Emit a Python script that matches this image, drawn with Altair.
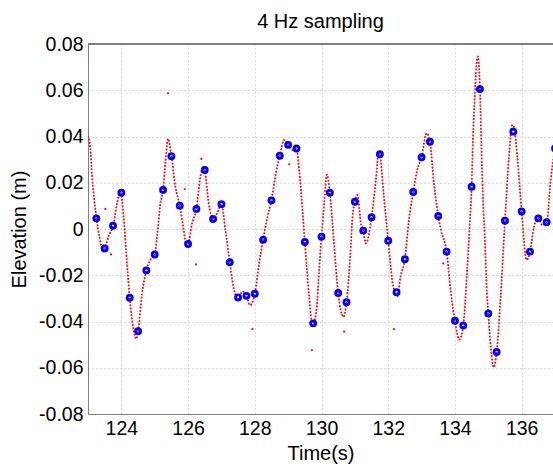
import altair as alt
import pandas as pd

# Dense (red) record: time (s) and elevation (m)
red_t = [123.00, 123.07, 123.12, 123.17, 123.25, 123.35, 123.45, 123.50, 123.62, 123.75,
         123.87, 123.97, 124.07, 124.17, 124.25, 124.37, 124.45, 124.50, 124.62, 124.75,
         124.87, 125.00, 125.07, 125.17, 125.25, 125.32, 125.40, 125.50, 125.62, 125.75,
         125.87, 125.95, 126.00, 126.12, 126.25, 126.37, 126.45, 126.50, 126.62, 126.75,
         126.87, 127.00, 127.12, 127.25, 127.38, 127.50, 127.63, 127.75, 127.86, 128.00,
         128.13, 128.25, 128.38, 128.50, 128.63, 128.75, 128.88, 129.00, 129.13, 129.25,
         129.33, 129.43, 129.50, 129.63, 129.70, 129.75, 129.86, 129.93, 130.00, 130.08,
         130.16, 130.25, 130.36, 130.50, 130.66, 130.75, 130.86, 130.93, 131.00, 131.08,
         131.18, 131.25, 131.33, 131.50, 131.63, 131.72, 131.75, 131.87, 132.00, 132.12,
         132.27, 132.37, 132.50, 132.62, 132.75, 132.87, 133.00, 133.15, 133.25, 133.37,
         133.50, 133.58, 133.75, 133.87, 134.00, 134.13, 134.25, 134.36, 134.44, 134.50,
         134.54, 134.59, 134.64, 134.69, 134.75, 134.81, 134.86, 134.89, 134.96, 135.00,
         135.08, 135.16, 135.25, 135.37, 135.50, 135.62, 135.72, 135.77, 135.87, 136.00,
         136.15, 136.25, 136.37, 136.50, 136.62, 136.75, 136.87, 137.00]
red_v = [0.0400, 0.0350, 0.0230, 0.0150, 0.0050, -0.0040, -0.0095, -0.0084, -0.0030, 0.0014,
         0.0110, 0.0165, 0.0050, -0.0150, -0.0297, -0.0437, -0.0475, -0.0442, -0.0280, -0.0179,
         -0.0134, -0.0110, -0.0033, 0.0110, 0.0169, 0.0284, 0.0390, 0.0315, 0.0183, 0.0101,
         -0.0004, -0.0070, -0.0065, 0.0025, 0.0087, 0.0227, 0.0270, 0.0255, 0.0110, 0.0043,
         0.0068, 0.0107, -0.0004, -0.0144, -0.0264, -0.0305, -0.0270, -0.0289, -0.0330, -0.0280,
         -0.0149, -0.0046, 0.0053, 0.0124, 0.0240, 0.0317, 0.0385, 0.0364, 0.0342, 0.0348,
         0.0255, 0.0082, -0.0056, -0.0293, -0.0394, -0.0408, -0.0336, -0.0177, -0.0033, 0.0111,
         0.0235, 0.0157, -0.0033, -0.0277, -0.0380, -0.0317, -0.0120, 0.0053, 0.0118, 0.0147,
         0.0025, -0.0007, -0.0062, 0.0051, 0.0212, 0.0335, 0.0323, 0.0140, -0.0051, -0.0221,
         -0.0293, -0.0206, -0.0131, 0.0039, 0.0160, 0.0255, 0.0310, 0.0414, 0.0377, 0.0198,
         0.0056, -0.0004, -0.0098, -0.0264, -0.0397, -0.0478, -0.0417, -0.0192, 0.0010, 0.0183,
         0.0385, 0.0558, 0.0700, 0.0746, 0.0605, 0.0270, 0.0068, -0.0019, -0.0280, -0.0365,
         -0.0520, -0.0598, -0.0532, -0.0293, 0.0036, 0.0313, 0.0450, 0.0440, 0.0313, 0.0076,
         -0.0134, -0.0098, 0.0010, 0.0046, 0.0017, 0.0029, 0.0212, 0.0349]

# Isolated red points (spikes)
out_t = [125.40, 123.52, 123.69, 125.90, 126.24, 126.40, 127.93, 129.03, 129.71, 130.68, 132.17, 133.65]
out_v = [0.0587, 0.0087, -0.0110, 0.0173, -0.0153, 0.0303, -0.0433, 0.0280, -0.0524, -0.0444, -0.0433, -0.0149]

# 4 Hz samples (blue)
blue_t = [123.25, 123.50, 123.75, 124.00, 124.25, 124.50, 124.75, 125.00, 125.25, 125.50,
          125.75, 126.00, 126.25, 126.50, 126.75, 127.00, 127.25, 127.50, 127.75, 128.00,
          128.25, 128.50, 128.75, 129.00, 129.25, 129.50, 129.75, 130.00, 130.25, 130.50,
          130.75, 131.00, 131.25, 131.50, 131.75, 132.00, 132.25, 132.50, 132.75, 133.00,
          133.25, 133.50, 133.75, 134.00, 134.25, 134.50, 134.75, 135.00, 135.25, 135.50,
          135.75, 136.00, 136.25, 136.50, 136.75, 137.00]
blue_v = [0.0046, -0.0084, 0.0014, 0.0157, -0.0297, -0.0442, -0.0179, -0.0110, 0.0169, 0.0315,
          0.0101, -0.0065, 0.0087, 0.0255, 0.0043, 0.0107, -0.0144, -0.0296, -0.0289, -0.0280,
          -0.0046, 0.0124, 0.0317, 0.0364, 0.0348, -0.0056, -0.0408, -0.0033, 0.0157, -0.0277,
          -0.0317, 0.0118, -0.0007, 0.0051, 0.0323, -0.0051, -0.0273, -0.0131, 0.0160, 0.0310,
          0.0377, 0.0056, -0.0098, -0.0397, -0.0417, 0.0183, 0.0605, -0.0365, -0.0532, 0.0036,
          0.0421, 0.0076, -0.0098, 0.0046, 0.0029, 0.0349]

x_ticks = [124, 126, 128, 130, 132, 134, 136]
y_ticks = [-0.08, -0.06, -0.04, -0.02, 0, 0.02, 0.04, 0.06, 0.08]

red_df = pd.DataFrame({"t": red_t, "v": red_v})
out_df = pd.DataFrame({"t": out_t, "v": out_v})
blue_df = pd.DataFrame({"t": blue_t, "v": blue_v})

W, H = 465, 370
FONT = "Liberation Sans"
AX = "#7f7f7f"

xs = alt.Scale(domain=[123.0, 136.94], nice=False, zero=False)
ys = alt.Scale(domain=[-0.08, 0.08], nice=False, zero=False)

x_axis = alt.Axis(values=x_ticks, title="Time(s)", grid=True, gridDash=[1, 3],
                  gridColor="#b8b8b8", ticks=False, tickSize=0, labelPadding=5,
                  labelFontSize=19.5, labelFont=FONT, labelColor="black",
                  domainColor=AX, titleFont=FONT, titleFontSize=20, titleFontWeight="normal",
                  titleColor="black", titleBaseline="alphabetic", titleY=45,
                  titleX=W / 2, format="d")
y_axis = alt.Axis(values=y_ticks, title="Elevation (m)", grid=True, gridDash=[1, 3],
                  gridColor="#b8b8b8", ticks=False, tickSize=0, labelPadding=5,
                  labelFontSize=19.5, labelFont=FONT, labelColor="black",
                  domainColor=AX, titleFont=FONT, titleFontSize=20, titleFontWeight="normal",
                  titleColor="black", titleBaseline="alphabetic", titleX=-63, titleY=H / 2,
                  titleAngle=270,
                  labelExpr="datum.value == 0 ? '0' : (datum.value < 0 ? '-' + format(-datum.value, '.2f') : format(datum.value, '.2f'))")

red_line = alt.Chart(red_df).mark_line(
    color="#ee1111", strokeWidth=2, strokeDash=[0.1, 3.2], strokeCap="round",
    interpolate="monotone", clip=True
).encode(x=alt.X("t:Q", scale=xs, axis=x_axis), y=alt.Y("v:Q", scale=ys, axis=y_axis))

red_pts = alt.Chart(out_df).mark_circle(color="#ee1111", size=5, opacity=1, clip=True).encode(
    x=alt.X("t:Q", scale=xs), y=alt.Y("v:Q", scale=ys))

blue_pts = alt.Chart(blue_df).mark_point(
    shape="circle", filled=False, color="#0000ff", strokeWidth=2.8, size=26, opacity=1, clip=True
).encode(x=alt.X("t:Q", scale=xs), y=alt.Y("v:Q", scale=ys))

top_border = alt.Chart(blue_df).mark_rule(color=AX, strokeWidth=1).encode(
    x=alt.value(0), x2=alt.value(W), y=alt.value(0))

chart = alt.layer(red_line, red_pts, blue_pts, top_border).properties(
    width=W, height=H,
    title=alt.TitleParams("4 Hz sampling", font=FONT, fontSize=20, fontWeight="normal",
                          color="black", anchor="middle", offset=2),
    autosize=alt.AutoSizeParams(type="none"),
    padding={"left": 88, "top": 44, "right": 0, "bottom": 50},
).configure_view(stroke=None).configure(background="white")

chart.save("out.html", embed_options={"renderer": "svg", "actions": False})
